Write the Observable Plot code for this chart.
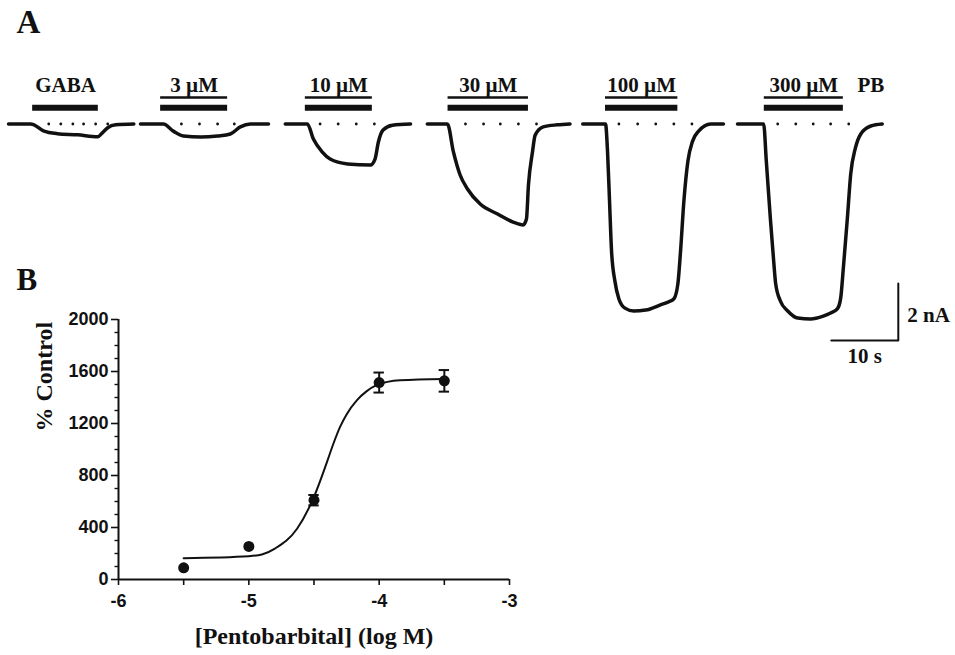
<!DOCTYPE html>
<html><head><meta charset="utf-8">
<script src="https://cdn.jsdelivr.net/npm/d3@7"></script>
<script src="https://cdn.jsdelivr.net/npm/@observablehq/plot@0.6"></script>
<style>
html,body{margin:0;padding:0;background:#fff;}
#fig{position:relative;width:955px;height:655px;overflow:hidden;background:#fff;}
#fig svg{position:absolute;left:0;}
#panelA{top:0;}
#panelB{top:290px;}
</style></head><body><div id="fig"></div>
<script>
// ===== Panel A: current traces (time in s from trace start, current in nA) =====
const traceLabels = ["GABA", "3 µM", "10 µM", "30 µM", "100 µM", "300 µM"];
const traceStart = [1.2, 20.9, 42.5, 63.7, 86.9, 110.0];
const traceGABA = [[0,0],[3.3,0],[3.8,-0.03],[5.2,-0.24],[7.3,-0.34],[10.3,-0.38],[13.3,-0.45],[14.0,-0.31],[14.8,-0.13],[16.0,-0.03],[18.7,0]];
const trace3 = [[0,0],[3.4,0],[4.9,-0.25],[6.4,-0.42],[9.0,-0.46],[11.5,-0.42],[13.4,-0.35],[14.9,-0.1],[16.4,0],[19.1,0]];
const trace10 = [[0,0],[3.3,0],[4.2,-0.53],[5.5,-0.98],[6.7,-1.23],[9.3,-1.40],[12.7,-1.44],[13.4,-1.23],[13.9,-0.63],[14.6,-0.21],[16.0,-0.04],[18.7,0]];
const trace30 = [[0,0],[3.0,0],[3.9,-0.98],[4.9,-1.79],[6.0,-2.28],[7.9,-2.81],[10.5,-3.16],[12.8,-3.44],[14.3,-3.54],[14.8,-3.33],[15.1,-2.14],[15.7,-0.98],[16.1,-0.39],[17.3,-0.1],[19.4,-0.03],[21.3,0]];
const trace100 = [[0,0],[3.4,0],[3.7,-0.95],[4.0,-2.70],[4.3,-4.46],[4.8,-5.51],[5.4,-6.14],[6.3,-6.46],[7.6,-6.56],[9.4,-6.53],[11.6,-6.35],[13.1,-6.21],[13.6,-6.14],[14.2,-5.61],[14.6,-4.46],[15.1,-2.70],[15.7,-1.30],[16.4,-0.60],[17.3,-0.25],[19.1,0],[21.0,0]];
const trace300 = [[0,0],[3.9,0],[4.3,-1.30],[4.9,-3.30],[5.4,-4.81],[5.7,-5.61],[6.4,-6.21],[7.5,-6.56],[9.0,-6.81],[10.9,-6.84],[12.8,-6.74],[13.9,-6.63],[14.9,-6.49],[15.4,-6.11],[15.8,-5.05],[16.4,-3.30],[16.9,-1.75],[17.6,-0.84],[18.4,-0.35],[19.9,-0.07],[21.6,0]];
const traces = [traceGABA, trace3, trace10, trace30, trace100, trace300];
// baseline reference dots (s from trace start)
const baselineDots = [[6.0,7.8,9.6,11.2,13.0,14.8],[6.1,8.8,11.5,14.0],[5.2,7.9,10.6,13.3],[5.7,8.4,10.9,13.6,16.3],[5.4,8.2,10.9,13.6,16.3],[6.0,8.7,11.3,13.9,16.6]];
// application bars (s from trace start)
const barOn  = [3.6, 3.0, 3.0, 3.1, 3.4, 4.0];
const barOff = [13.4, 13.0, 13.0, 15.1, 14.2, 15.8];
const hasThinBar = [false, true, true, true, true, true];
const drugName = "PB";
const scaleBarTime = 10;   // s
const scaleBarCurrent = 2; // nA

// ===== Panel B: concentration-response =====
const logConc = [-5.5, -5.0, -4.5, -4.0, -3.5];
const pctControl = [90, 254, 610, 1515, 1528];
const sem = [0, 0, 40, 77, 83];
const fitLogConc = [-5.5, -5.0, -4.9, -4.8, -4.63, -4.5, -4.4, -4.35, -4.3, -4.25, -4.17, -4.1, -4.02, -3.84, -3.5];
const fitPct     = [164, 179, 192, 238, 390, 636, 905, 1048, 1174, 1270, 1380, 1445, 1495, 1533, 1543];
const yMajorTicks = [0, 400, 800, 1200, 1600, 2000];
const xTicks = [-6, -5.5, -5, -4.5, -4, -3.5, -3];

// ===== layout =====
const ink = "#111";
const serif = "'Liberation Serif', 'Times New Roman', serif";
const sans = "'Liberation Sans', Arial, sans-serif";
const pxPerSec = 6.7, pxPerNA = 28.5, baselinePx = 123.5;
const thickLevel = 0.57, thinLevel = 0.93, labelLevel = 1.12;
const pbTime = 127.9;
const scaleBarEnd = {t: 134.0, I: -7.6};

const traceRows = traces.flatMap((tr, k) => tr.map(([t, I]) => ({k, t: traceStart[k] + t, I})));
const dotRows = baselineDots.flatMap((ds, k) => ds.map(t => ({t: traceStart[k] + t, I: 0})));
const barRows = traceLabels.map((lab, k) => ({lab, k, t1: traceStart[k] + barOn[k], t2: traceStart[k] + barOff[k], thin: hasThinBar[k]}));
const sb = [
  {t: scaleBarEnd.t, I: scaleBarEnd.I + scaleBarCurrent},
  {t: scaleBarEnd.t, I: scaleBarEnd.I},
  {t: scaleBarEnd.t - scaleBarTime, I: scaleBarEnd.I}
];

const panelA = Plot.plot({
  width: 955, height: 655, margin: 0,
  x: {domain: [0, 955 / pxPerSec], axis: null},
  y: {domain: [(baselinePx - 655) / pxPerNA, baselinePx / pxPerNA], axis: null},
  style: {background: "transparent", overflow: "visible", color: ink},
  marks: [
    Plot.line(traceRows, {x: "t", y: "I", z: "k", stroke: ink, strokeWidth: 3.5, curve: "monotone-x"}),
    Plot.dot(dotRows, {x: "t", y: "I", r: 1.4, fill: ink, stroke: null}),
    Plot.ruleY(barRows, {y: thickLevel, x1: "t1", x2: "t2", stroke: ink, strokeWidth: 6}),
    Plot.ruleY(barRows.filter(d => d.thin), {y: thinLevel, x1: "t1", x2: "t2", stroke: ink, strokeWidth: 2.5}),
    Plot.text(barRows, {x: d => (d.t1 + d.t2) / 2, y: labelLevel, text: "lab", lineAnchor: "bottom", fontFamily: serif, fontWeight: "bold", fontSize: 21, fill: ink}),
    Plot.text([drugName], {x: pbTime, y: labelLevel, text: d => d, textAnchor: "start", lineAnchor: "bottom", fontFamily: serif, fontWeight: "bold", fontSize: 21, fill: ink}),
    Plot.line(sb, {x: "t", y: "I", stroke: ink, strokeWidth: 2}),
    Plot.text([scaleBarCurrent + " nA"], {x: scaleBarEnd.t, y: scaleBarEnd.I + scaleBarCurrent / 2, text: d => d, textAnchor: "start", dx: 9, dy: 3, fontFamily: serif, fontWeight: "bold", fontSize: 21, fill: ink}),
    Plot.text([scaleBarTime + " s"], {x: scaleBarEnd.t - scaleBarTime / 2, y: scaleBarEnd.I, text: d => d, lineAnchor: "top", dy: 7, fontFamily: serif, fontWeight: "bold", fontSize: 21, fill: ink}),
    Plot.text(["A"], {frameAnchor: "top-left", text: d => d, textAnchor: "start", lineAnchor: "top", dx: 16, dy: 9, fontFamily: serif, fontWeight: "bold", fontSize: 33, fill: ink}),
    Plot.text(["B"], {frameAnchor: "top-left", text: d => d, textAnchor: "start", lineAnchor: "top", dx: 16, dy: 267, fontFamily: serif, fontWeight: "bold", fontSize: 31, fill: ink})
  ]
});
panelA.id = "panelA";

const pts = logConc.map((x, i) => ({x, y: pctControl[i], e: sem[i]}));
const errs = pts.filter(d => d.e > 0);
const fit = fitLogConc.map((x, i) => ({x, y: fitPct[i]}));
const capHalf = 0.04;
const yMinor = d3.range(0, 2001, 100).filter(v => !yMajorTicks.includes(v));

const panelB = Plot.plot({
  width: 530, height: 365,
  marginLeft: 118, marginRight: 21, marginTop: 29, marginBottom: 76,
  x: {domain: [-6, -3]},
  y: {domain: [0, 2000]},
  style: {background: "transparent", overflow: "visible", color: ink, fontFamily: sans},
  marks: [
    Plot.axisY({ticks: yMajorTicks, tickSize: 7, tickPadding: 3, tickFormat: d => String(d), label: null, fontSize: 18, fontWeight: "bold", strokeWidth: 1.6}),
    Plot.axisY({ticks: yMinor, tickSize: 3.5, tickFormat: () => "", label: null, strokeWidth: 1.4}),
    Plot.axisX({ticks: xTicks, tickSize: 6, tickPadding: 9, tickFormat: d => Number.isInteger(d) ? String(d) : "", label: null, fontSize: 18, fontWeight: "bold", strokeWidth: 1.6}),
    Plot.ruleX([-6], {stroke: ink, strokeWidth: 2}),
    Plot.ruleY([0], {stroke: ink, strokeWidth: 2}),
    Plot.line(fit, {x: "x", y: "y", curve: "monotone-x", stroke: ink, strokeWidth: 2}),
    Plot.ruleX(errs, {x: "x", y1: d => d.y - d.e, y2: d => d.y + d.e, stroke: ink, strokeWidth: 2}),
    Plot.ruleY(errs, {y: d => d.y + d.e, x1: d => d.x - capHalf, x2: d => d.x + capHalf, stroke: ink, strokeWidth: 2}),
    Plot.ruleY(errs, {y: d => d.y - d.e, x1: d => d.x - capHalf, x2: d => d.x + capHalf, stroke: ink, strokeWidth: 2}),
    Plot.dot(pts, {x: "x", y: "y", r: 5.5, fill: ink, stroke: null}),
    Plot.text(["% Control"], {frameAnchor: "left", text: d => d, rotate: -90, dx: -74, dy: -18, fontFamily: serif, fontWeight: "bold", fontSize: 24, fill: ink}),
    Plot.text(["[Pentobarbital] (log M)"], {frameAnchor: "bottom", text: d => d, lineAnchor: "bottom", dy: 64, fontFamily: serif, fontWeight: "bold", fontSize: 24, fill: ink})
  ]
});
panelB.id = "panelB";

const fig = document.getElementById("fig");
fig.appendChild(panelA);
fig.appendChild(panelB);
</script></body></html>
